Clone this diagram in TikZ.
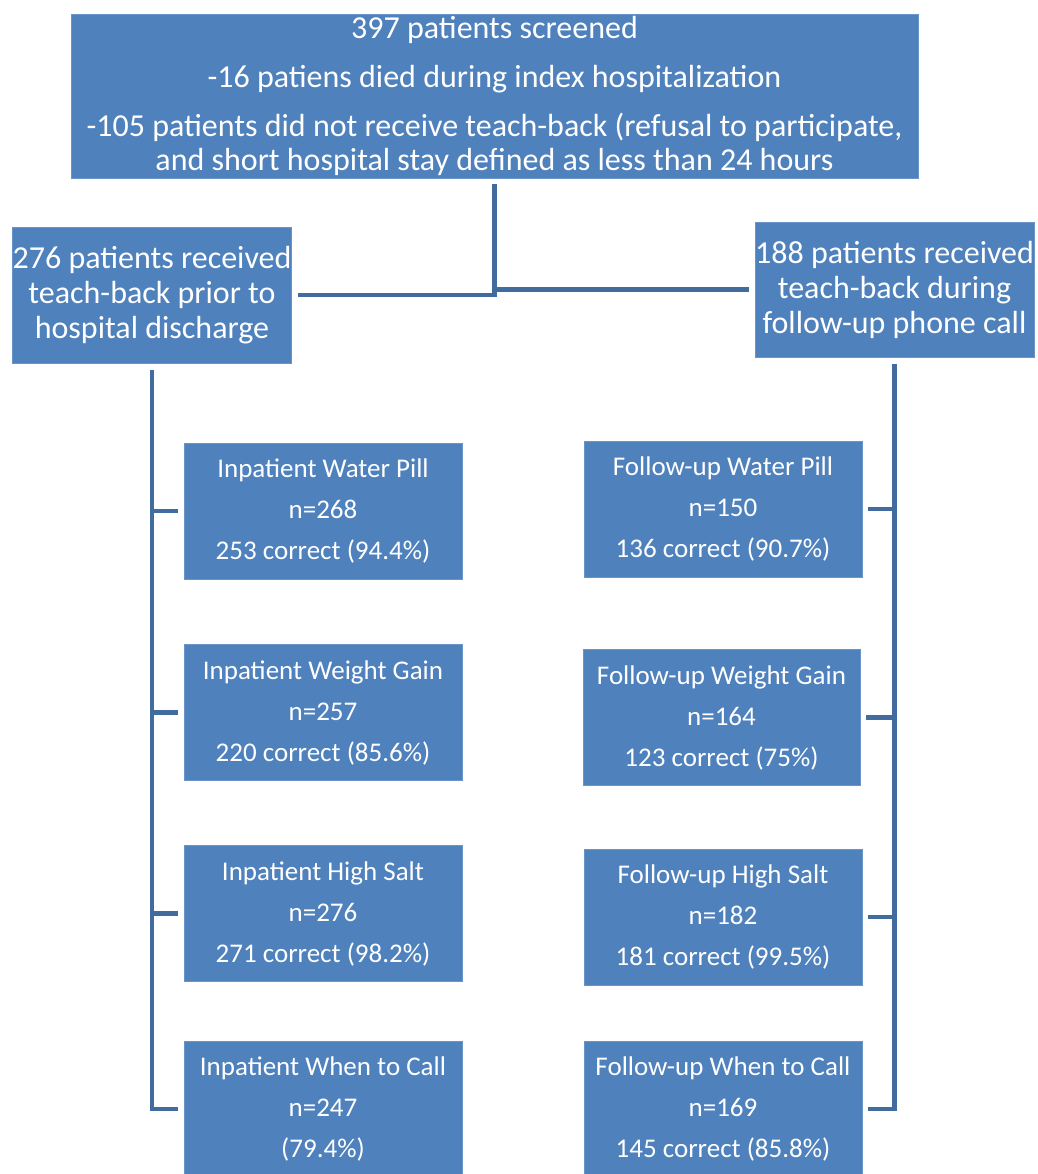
\documentclass[tikz,border=0pt]{standalone}
\usepackage{fontspec}
\setmainfont{Carlito}
\usetikzlibrary{positioning}
\definecolor{boxblue}{RGB}{79,129,189}
\definecolor{lineblue}{RGB}{65,108,158}

\begin{document}
\begin{tikzpicture}[x=1pt, y=-1pt,
		box/.style={fill=boxblue, draw=boxblue!85!white, line width=0.8pt, text=white, align=center, inner sep=0pt},
		small/.style={box, minimum width=278pt, minimum height=136pt, font=\fontsize{27}{41}\selectfont},
		mid/.style={box, minimum width=278pt, minimum height=136pt, font=\fontsize{32}{35}\selectfont},
		link/.style={draw=lineblue, line width=4.5pt}]
				\useasboundingbox (0,0) rectangle (1037,1174);
				\node [box, minimum width=847pt, minimum height=164pt, font=\fontsize{32}{34}\selectfont] (top) at (494.5,96) {397 patients screened\\[15pt]-16 patiens died during index hospitalization\\[15pt]-105 patients did not receive teach-back (refusal to participate,\\and short hospital stay defined as less than 24 hours};
				\node [mid] (inpat) at (152,295) {276 patients received\\teach-back prior to\\hospital discharge};
				\node [mid, minimum width=277pt, minimum height=135pt] (follow) at (894.5,289.5) {188 patients received\\teach-back during\\follow-up phone call};
				
				\node [small] (inwater) at (323,511) {Inpatient Water Pill\\n=268\\253 correct (94.4\%)};
				\node [small] (inweight) at (323,712.5) {Inpatient Weight Gain\\n=257\\220 correct (85.6\%)};
				\node [small] (insalt) at (323,913.5) {Inpatient High Salt\\n=276\\271 correct (98.2\%)};
				\node [small] (incall) at (323,1109) {Inpatient When to Call\\n=247\\(79.4\%)};
				
				\node [small] (fuwater) at (723,509) {Follow-up Water Pill\\n=150\\136 correct (90.7\%)};
				\node [small, minimum width=277pt] (fuweight) at (721.5,717.5) {Follow-up Weight Gain\\n=164\\123 correct (75\%)};
				\node [small] (fusalt) at (723,917) {Follow-up High Salt\\n=182\\181 correct (99.5\%)};
				\node [small] (fucall) at (723,1109) {Follow-up When to Call\\n=169\\145 correct (85.8\%)};
				
				\draw [link] ([yshift=-6pt]top.south) |- ([xshift=6pt]inpat.east);
				\draw [link] (top.south |- follow.west) -- ([xshift=-6pt]follow.west);
				
				\draw [link] ([yshift=-7pt]inpat.south) |- ([xshift=-6pt]incall.west);
				\foreach \n in {inwater, inweight, insalt}
					\draw [link] (inpat.south |- \n.west) -- ([xshift=-6pt]\n.west);
				
				\draw [link] ([yshift=-7pt]follow.south) |- ([xshift=6pt]fucall.east);
				\foreach \n in {fuwater, fuweight, fusalt}
					\draw [link] (follow.south |- \n.east) -- ([xshift=6pt]\n.east);
			\end{tikzpicture}
\end{document}
